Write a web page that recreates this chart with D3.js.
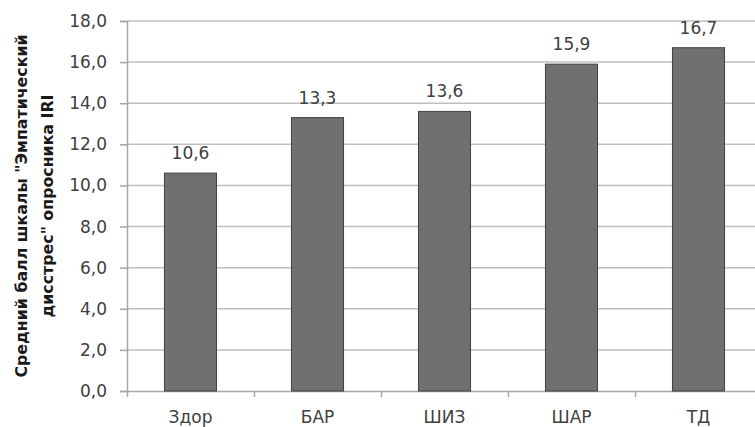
<!DOCTYPE html>
<html>
<head>
<meta charset="utf-8">
<script src="https://cdn.jsdelivr.net/npm/d3@7"></script>
<style>
  body { margin: 0; background: #fff; }
  svg { display: block; font-family: "DejaVu Sans", sans-serif; }
</style>
</head>
<body>
<svg id="chart" width="755" height="427"></svg>
<script>
var categories = ["Здор", "БАР", "ШИЗ", "ШАР", "ТД"];
var values = [10.6, 13.3, 13.6, 15.9, 16.7];
var yTicks = [0, 2, 4, 6, 8, 10, 12, 14, 16, 18];
var titleLines = ["Средний балл шкалы \"Эмпатический", "дисстрес\" опросника IRI"];

// plot box (top is a reserved window name, so use pTop etc.)
var pLeft = 127, pRight = 762, pTop = 21, pBottom = 391;
var svg = d3.select("#chart");

var x = d3.scaleBand().domain(categories).range([pLeft, pRight]).padding(0);
var xb = d3.scaleLinear().domain([0, categories.length]).range([pLeft, pRight]);
var y = d3.scaleLinear().domain([0, 18]).range([pBottom, pTop]);
var fmt = function(d) { return d.toFixed(1).replace(".", ","); };

// gridlines
svg.append("g").selectAll("line")
    .data(yTicks.slice(1))
    .enter().append("line")
    .attr("x1", pLeft).attr("x2", pRight)
    .attr("y1", function(d) { return y(d); })
    .attr("y2", function(d) { return y(d); })
    .attr("stroke", "#bfbfbf")
    .attr("stroke-width", 1.5);

// y axis
var gy = svg.append("g").attr("transform", "translate(" + pLeft + ",0)")
    .call(d3.axisLeft(y).tickValues(yTicks).tickSize(7).tickPadding(13).tickFormat(fmt));
gy.select(".domain").attr("stroke", "#a6a6a6").attr("stroke-width", 1.5);
gy.selectAll(".tick line").attr("stroke", "#a6a6a6").attr("stroke-width", 1.5);
gy.selectAll("text").attr("fill", "#404040").style("font-size", "17px")
    .style("font-family", "DejaVu Sans");

// x axis boundary ticks
var gx = svg.append("g").attr("transform", "translate(0," + pBottom + ")")
    .call(d3.axisBottom(xb).tickValues(d3.range(categories.length + 1)).tickSize(6).tickSizeOuter(0).tickFormat(""));
gx.select(".domain").attr("stroke", "#a6a6a6").attr("stroke-width", 1.5);
gx.selectAll(".tick line").attr("stroke", "#a6a6a6").attr("stroke-width", 1.5);

// category labels
var gl = svg.append("g").attr("transform", "translate(0," + pBottom + ")")
    .call(d3.axisBottom(x).tickSize(0).tickPadding(20));
gl.select(".domain").remove();
gl.selectAll("text").attr("fill", "#404040").style("font-size", "17px")
    .style("font-family", "DejaVu Sans");

// bars
var bw = x.bandwidth() * 0.41;
svg.append("g").selectAll("rect")
    .data(values)
    .enter().append("rect")
    .attr("x", function(d, i) { return x(categories[i]) + x.bandwidth() / 2 - bw / 2; })
    .attr("y", function(d) { return y(d); })
    .attr("width", bw)
    .attr("height", function(d) { return y(0) - y(d); })
    .attr("fill", "#707070")
    .attr("stroke", "#404040")
    .attr("stroke-width", 1);

// value labels
svg.append("g").selectAll("text")
    .data(values)
    .enter().append("text")
    .attr("x", function(d, i) { return x(categories[i]) + x.bandwidth() / 2; })
    .attr("y", function(d) { return y(d) - 14; })
    .attr("text-anchor", "middle")
    .attr("fill", "#404040")
    .style("font-size", "17px")
    .text(fmt);

// y title
var cy = (pTop + pBottom) / 2;
svg.append("g").selectAll("text")
    .data(titleLines)
    .enter().append("text")
    .attr("transform", function(d, i) { return "translate(" + (27 + i * 26) + "," + cy + ") rotate(-90)"; })
    .attr("text-anchor", "middle")
    .attr("fill", "#1a1a1a")
    .style("font-size", "15.8px")
    .style("font-weight", "bold")
    .text(function(d) { return d; });
</script>
</body>
</html>
